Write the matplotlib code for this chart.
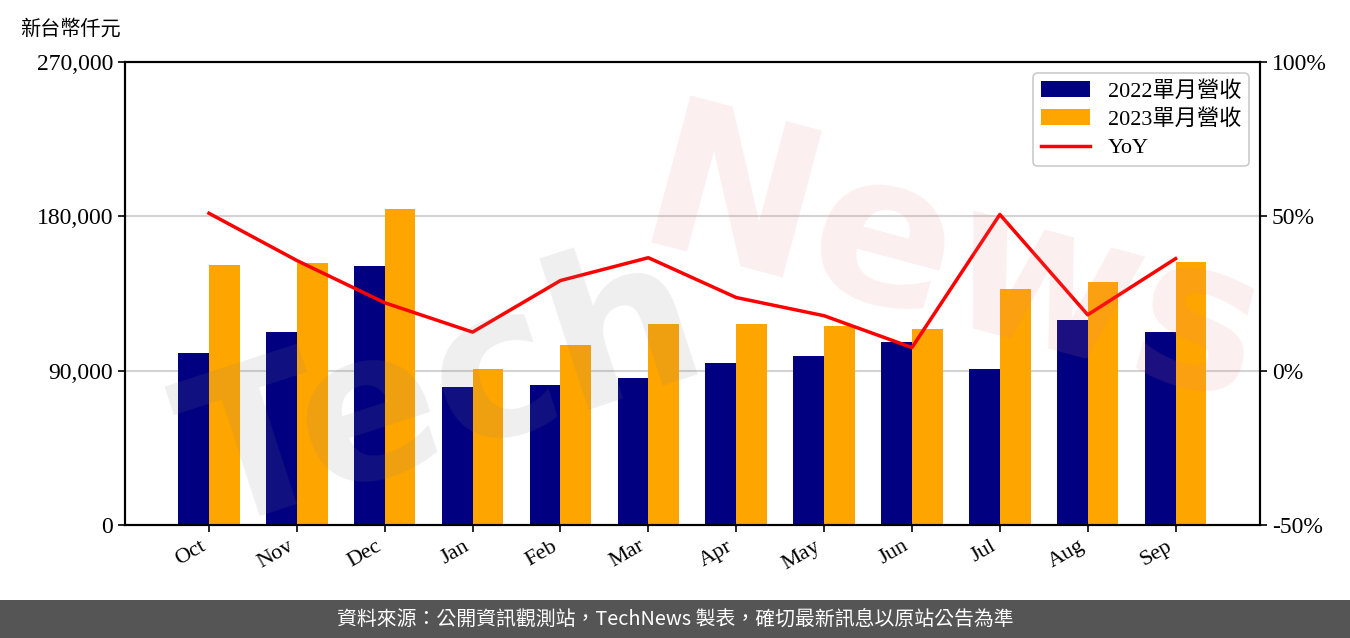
import matplotlib
matplotlib.use("Agg")
import numpy as np
import matplotlib.pyplot as plt
from matplotlib.ticker import FuncFormatter

# fonts: serif latin + CJK fallback
serif = ['Liberation Serif', 'Noto Sans CJK TC', 'DejaVu Sans']
plt.rcParams['font.family'] = serif

# data
months = ['Oct', 'Nov', 'Dec', 'Jan', 'Feb', 'Mar', 'Apr', 'May', 'Jun', 'Jul', 'Aug', 'Sep']
rev_2022 = [100300, 112500, 151000, 80500, 81600, 85700, 94500, 98500, 106700, 91000, 119500, 112500]
rev_2023 = [151600, 152800, 184300, 91000, 105000, 117200, 117200, 116000, 114300, 137600, 141700, 153400]
yoy = [51.0, 35.7, 22.0, 12.5, 29.2, 36.6, 23.7, 17.8, 7.5, 50.6, 18.1, 36.3]

fig = plt.figure(figsize=(13.5, 6.38), dpi=100)
ax = fig.add_axes([0.0926, 0.1771, 0.8407, 0.7257])

x = np.arange(len(months))
w = 0.35
ax.bar(x - w / 2, rev_2022, width=w, color='#000080', label='2022單月營收', zorder=2)
ax.bar(x + w / 2, rev_2023, width=w, color='#FFA500', label='2023單月營收', zorder=2)

ax.set_ylim(0, 270000)
ax.set_xlim(-0.955, 11.96)
ax.set_yticks([0, 90000, 180000, 270000])
ax.yaxis.set_major_formatter(FuncFormatter(lambda v, p: f'{int(v):,}'))
ax.set_xticks(x)
ax.set_xticklabels(months, rotation=30, ha='right', fontsize=16)
ax.tick_params(axis='y', labelsize=17, length=5, width=1.2)
ax.tick_params(axis='x', length=5, width=1.2)
ax.grid(axis='y', color='#d3d3d3', linewidth=1.5, zorder=0)
for s in ax.spines.values():
    s.set_linewidth(1.5)

# right axis for YoY
ax2 = ax.twinx()
ax2.plot(x, yoy, color='red', linewidth=2.5, label='YoY', zorder=3)
ax2.set_ylim(-50, 100)
ax2.set_yticks([-50, 0, 50, 100])
ax2.yaxis.set_major_formatter(FuncFormatter(lambda v, p: f'{int(v)}%'))
ax2.tick_params(axis='y', labelsize=17, length=5, width=1.2)
for s in ax2.spines.values():
    s.set_linewidth(1.5)

# watermark
fig.text(0.12, 0.38, 'Tech', fontsize=150, color='#808080', alpha=0.13,
         rotation=18, family='DejaVu Sans', weight='bold', ha='left', va='center')
fig.text(0.46, 0.58, 'News', fontsize=150, color='#e08080', alpha=0.13,
         rotation=-15, family='DejaVu Sans', weight='bold', ha='left', va='center')

h1, l1 = ax.get_legend_handles_labels()
h2, l2 = ax2.get_legend_handles_labels()
leg = ax2.legend(h1 + h2, l1 + l2, loc='upper right', fontsize=16, framealpha=1,
                 edgecolor='#cccccc', handlelength=2.2, borderpad=0.35,
                 labelspacing=0.35)
leg.get_frame().set_linewidth(1.2)

fig.text(0.015, 0.955, '新台幣仟元', fontsize=14.5, family=['Noto Sans CJK TC'],
         ha='left', va='center')

# footer band
band = fig.add_axes([0, 0, 1, 0.06])
band.set_facecolor('#555555')
band.set_xticks([])
band.set_yticks([])
for s in band.spines.values():
    s.set_visible(False)
band.text(0.5, 0.5, '資料來源：公開資訊觀測站，TechNews 製表，確切最新訊息以原站公告為準',
          color='white', fontsize=14.3, ha='center', va='center',
          family=['Noto Sans CJK TC', 'DejaVu Sans'])

fig.savefig('out.png', dpi=100)
